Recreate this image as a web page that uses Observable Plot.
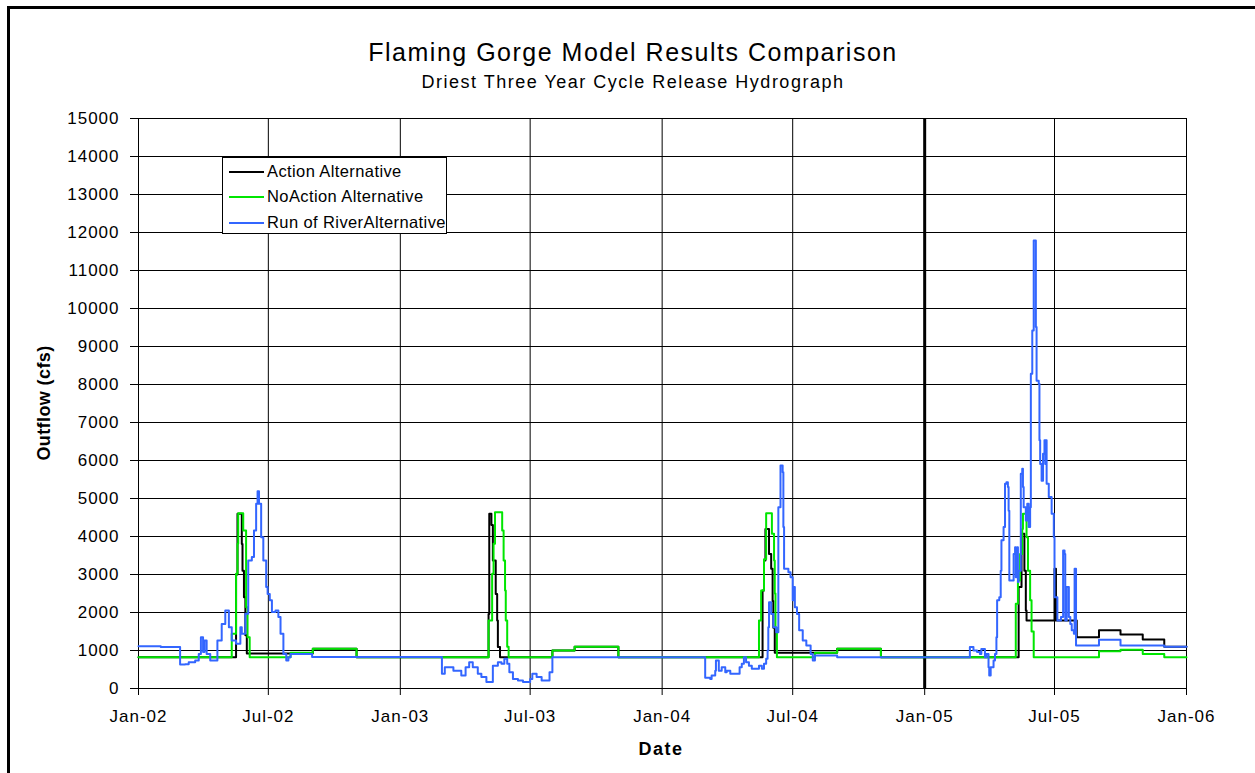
<!DOCTYPE html>
<html>
<head>
<meta charset="utf-8">
<script src="https://cdn.jsdelivr.net/npm/d3@7"></script>
<script src="https://cdn.jsdelivr.net/npm/@observablehq/plot@0.6"></script>
<style>
html,body{margin:0;padding:0;background:#fff;overflow:hidden;width:1255px;height:773px}
#wrap{position:relative;width:1255px;height:773px;font-family:"Liberation Sans",Arial,Helvetica,sans-serif;color:#000;overflow:hidden}
#outer{position:absolute;left:7px;top:6px;width:1400px;height:900px;border:3px solid #000;box-sizing:border-box}
#chart{position:absolute;left:0;top:0}
.lbl{position:absolute;line-height:1;white-space:nowrap;transform:translate(-50%,-50%)}
#title{left:633px;top:52px;font-size:25px;letter-spacing:1.5px}
#subtitle{left:633px;top:82px;font-size:18px;letter-spacing:1.5px}
#xlabel{left:661px;top:749px;font-size:18px;font-weight:bold;letter-spacing:1.5px}
#ylabel{left:44px;top:403px;font-size:18px;font-weight:bold;letter-spacing:0.4px;transform:translate(-50%,-50%) rotate(-90deg)}
#legend{position:absolute;left:222px;top:157px;width:225px;height:77px;border:1px solid #000;background:#fff;box-sizing:border-box;font-size:16.5px;letter-spacing:0.4px}
#legend .row{position:absolute;left:6px;height:20px;line-height:20px;white-space:nowrap}
#legend .sw{display:inline-block;width:35px;height:2px;vertical-align:middle;margin-right:3px;position:relative;top:-1px}
</style>
</head>
<body>
<div id="wrap">
  <div id="outer"></div>
  <div id="chart"></div>
  <div id="title" class="lbl">Flaming Gorge Model Results Comparison</div>
  <div id="subtitle" class="lbl">Driest Three Year Cycle Release Hydrograph</div>
  <div id="xlabel" class="lbl">Date</div>
  <div id="ylabel" class="lbl">Outflow (cfs)</div>
  <div id="legend"></div>
</div>
<script>
// ---------- data ----------
const seriesNames = ["Action Alternative", "NoAction Alternative", "Run of RiverAlternative"];
const seriesColors = ["#000000", "#00e600", "#3366ff"];

const xTickDates = ["2002-01-01","2002-07-01","2003-01-01","2003-07-01","2004-01-01","2004-07-01","2005-01-01","2005-07-01","2006-01-01"];
const yTicks = [0,1000,2000,3000,4000,5000,6000,7000,8000,9000,10000,11000,12000,13000,14000,15000];
const boldRuleDates = ["2005-01-01"];

const actionAlt = [
  ["2002-01-01",820],["2002-05-17",3000],["2002-05-19",4600],["2002-05-25",3800],["2002-05-26",3100],["2002-05-28",2400],["2002-05-30",1400],["2002-06-01",920],["2002-09-01",1045],["2002-11-01",820],
  ["2003-05-04",1960],["2003-05-05",4600],["2003-05-08",4300],["2003-05-10",3370],["2003-05-14",2490],["2003-05-16",1790],["2003-05-17",1090],["2003-05-20",820],["2003-08-01",1000],["2003-09-01",1100],["2003-11-01",820],
  ["2004-05-20",2580],["2004-05-22",3370],["2004-05-24",4200],["2004-05-29",3540],["2004-06-01",3150],["2004-06-03",2300],["2004-06-04",1600],["2004-06-06",940],["2004-09-01",1045],["2004-11-01",820],
  ["2005-05-12",2670],["2005-05-16",4070],["2005-05-20",3100],["2005-05-22",2050],["2005-05-23",1790],["2005-07-01",3150],["2005-07-03",1790],["2005-08-01",1350],["2005-09-01",1530],["2005-10-01",1420],["2005-11-01",1290],["2005-12-01",1100],["2006-01-01",1100]
];

const noActionAlt = [
  ["2002-01-01",820],["2002-05-11",1440],["2002-05-17",3020],["2002-05-19",3810],["2002-05-20",4610],["2002-05-27",4160],["2002-05-31",2140],["2002-06-02",1350],["2002-06-05",820],["2002-08-01",940],["2002-09-01",1045],["2002-11-01",820],
  ["2003-05-04",1790],["2003-05-09",3020],["2003-05-11",3810],["2003-05-13",4640],["2003-05-23",4160],["2003-05-25",3370],["2003-05-27",2580],["2003-05-28",1790],["2003-05-30",1100],["2003-06-01",820],["2003-08-01",1000],["2003-09-01",1100],["2003-11-01",820],
  ["2004-05-15",1790],["2004-05-18",2580],["2004-05-22",3400],["2004-05-25",4610],["2004-06-02",4070],["2004-06-05",3370],["2004-06-06",2500],["2004-06-07",1600],["2004-06-09",820],["2004-08-01",940],["2004-09-01",1045],["2004-11-01",820],
  ["2005-05-08",2230],["2005-05-11",2840],["2005-05-14",3540],["2005-05-17",4200],["2005-05-18",4600],["2005-05-23",3980],["2005-05-25",3100],["2005-05-28",2320],["2005-05-30",1500],["2005-06-02",820],["2005-09-01",980],["2005-10-01",1020],["2005-11-01",910],["2005-12-01",820],["2006-01-01",820]
];

const runOfRiverAlt = [
  ["2002-01-01",1110],["2002-02-01",1090],["2002-02-28",630],["2002-03-07",640],["2002-03-12",690],["2002-03-21",740],["2002-03-26",910],["2002-03-29",1350],["2002-04-01",960],["2002-04-03",1260],["2002-04-06",910],["2002-04-11",740],["2002-04-21",1260],["2002-04-27",1700],["2002-05-02",2050],["2002-05-07",1610],["2002-05-11",1260],["2002-05-17",1175],["2002-05-23",1610],["2002-05-25",1440],["2002-05-30",1970],["2002-06-03",3370],["2002-06-08",3460],["2002-06-11",4160],["2002-06-14",4860],["2002-06-16",5190],["2002-06-18",4860],["2002-06-21",3980],["2002-06-24",3370],["2002-06-28",2670],["2002-06-30",2490],["2002-07-03",2320],["2002-07-06",2010],["2002-07-11",2050],["2002-07-15",1880],["2002-07-18",1440],["2002-07-22",910],["2002-07-26",740],["2002-07-29",820],["2002-08-01",910],["2002-08-31",830],
  ["2003-02-28",390],["2003-03-04",560],["2003-03-16",470],["2003-03-27",340],["2003-04-02",560],["2003-04-07",690],["2003-04-12",560],["2003-04-19",390],["2003-04-24",300],["2003-05-01",170],["2003-05-10",600],["2003-05-17",690],["2003-05-22",650],["2003-05-26",780],["2003-05-30",650],["2003-06-02",430],["2003-06-07",250],["2003-06-14",210],["2003-06-21",170],["2003-07-01",250],["2003-07-04",390],["2003-07-10",300],["2003-07-17",210],["2003-07-28",430],["2003-08-01",820],
  ["2004-03-01",280],["2004-03-08",250],["2004-03-10",340],["2004-03-15",470],["2004-03-16",740],["2004-03-20",470],["2004-03-24",560],["2004-03-29",430],["2004-03-31",470],["2004-04-05",390],["2004-04-18",560],["2004-04-21",650],["2004-04-24",820],["2004-04-27",690],["2004-05-01",600],["2004-05-05",520],["2004-05-15",600],["2004-05-19",520],["2004-05-22",650],["2004-05-25",780],["2004-05-27",1000],["2004-05-28",1610],["2004-05-29",2270],["2004-06-01",1960],["2004-06-04",1610],["2004-06-08",1480],["2004-06-11",4770],["2004-06-14",5870],["2004-06-17",5690],["2004-06-18",4250],["2004-06-19",3150],["2004-06-25",3060],["2004-06-28",2930],["2004-07-01",2320],["2004-07-03",2670],["2004-07-04",2140],["2004-07-07",1960],["2004-07-10",1530],["2004-07-15",1260],["2004-07-20",1130],["2004-07-26",910],["2004-07-29",740],["2004-08-01",870],["2004-09-01",820],
  ["2005-03-01",820],["2005-03-05",1090],["2005-03-10",1000],["2005-03-15",960],["2005-03-19",910],["2005-03-21",1040],["2005-03-26",820],["2005-03-28",910],["2005-03-31",560],["2005-04-01",340],["2005-04-03",560],["2005-04-07",740],["2005-04-09",910],["2005-04-11",1350],["2005-04-12",2320],["2005-04-15",2400],["2005-04-17",3100],["2005-04-18",3900],["2005-04-21",4250],["2005-04-23",5390],["2005-04-25",5430],["2005-04-27",5300],["2005-04-28",4680],["2005-04-29",2840],["2005-05-05",3540],["2005-05-07",3720],["2005-05-08",2930],["2005-05-10",3720],["2005-05-11",2800],["2005-05-12",3100],["2005-05-15",5650],["2005-05-17",5780],["2005-05-18",5300],["2005-05-19",4770],["2005-05-22",4420],["2005-05-24",4860],["2005-05-26",4250],["2005-05-28",4770],["2005-05-29",8280],["2005-05-31",9420],["2005-06-02",11790],["2005-06-05",9510],["2005-06-06",8100],["2005-06-09",8020],["2005-06-10",6530],["2005-06-11",5910],["2005-06-13",5470],["2005-06-15",6180],["2005-06-17",6530],["2005-06-18",5910],["2005-06-19",6530],["2005-06-20",5390],["2005-06-23",5040],["2005-06-27",4600],["2005-06-30",3980],["2005-07-01",2400],["2005-07-05",1790],["2005-07-10",1880],["2005-07-13",3630],["2005-07-15",3540],["2005-07-16",1790],["2005-07-18",2670],["2005-07-21",1880],["2005-07-23",1700],["2005-07-25",1530],["2005-07-28",1440],["2005-07-29",3150],["2005-07-31",1130],["2005-09-01",1280],["2005-10-01",1130],["2005-12-01",1100],["2006-01-01",1100]
];

// ---------- build ----------
const P = s => new Date(s + "T00:00:00Z");
const rows = arr => arr.map(([d, v]) => ({date: P(d), flow: v}));
const xTicks = xTickDates.map(P);
const seriesData = [actionAlt, noActionAlt, runOfRiverAlt];

const font = '"Liberation Sans", Arial, Helvetica, sans-serif';

const chart = Plot.plot({
  width: 1255,
  height: 773,
  marginLeft: 138,
  marginRight: 69,
  marginTop: 118,
  marginBottom: 85,
  style: {fontFamily: font, fontSize: "17px", background: "transparent", color: "#000", overflow: "visible"},
  x: {type: "utc", domain: [P("2002-01-01"), P("2006-01-01")]},
  y: {type: "linear", domain: [0, 15000]},
  marks: [
    Plot.gridY(yTicks, {stroke: "#000", strokeOpacity: 1, strokeWidth: 1}),
    Plot.gridX(xTicks, {stroke: "#000", strokeOpacity: 1, strokeWidth: 1}),
    Plot.ruleX(boldRuleDates.map(P), {stroke: "#000", strokeWidth: 3}),
    Plot.frame({stroke: "#000", strokeWidth: 1}),
    ...seriesData.map((arr, i) =>
      Plot.line(rows(arr), {x: "date", y: "flow", stroke: seriesColors[i], strokeWidth: 2, curve: "step-after"})
    ),
    Plot.axisY(yTicks, {tickSize: 8, tickPadding: 11, tickFormat: d3.format("d"), label: null, stroke: "#000"}),
    Plot.axisX(xTicks, {tickSize: 7, tickPadding: 14, tickFormat: d3.utcFormat("%b-%y"), label: null, stroke: "#000"})
  ]
});
chart.querySelectorAll("g[aria-label='y-axis tick label'] text, g[aria-label='x-axis tick label'] text").forEach(t => t.setAttribute("letter-spacing", "1"));
document.getElementById("chart").appendChild(chart);

// legend
const legend = document.getElementById("legend");
const rowTops = [3, 28, 54];
seriesNames.forEach((name, i) => {
  const r = document.createElement("div");
  r.className = "row";
  r.style.top = rowTops[i] + "px";
  const sw = document.createElement("span");
  sw.className = "sw";
  sw.style.background = seriesColors[i];
  r.appendChild(sw);
  r.appendChild(document.createTextNode(name));
  legend.appendChild(r);
});
</script>
</body>
</html>
